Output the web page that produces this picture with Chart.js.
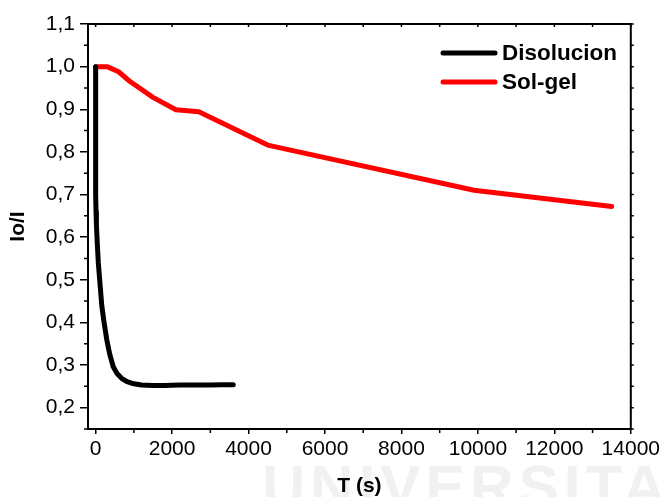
<!DOCTYPE html>
<html>
<head>
<meta charset="utf-8">
<script src="https://cdn.jsdelivr.net/npm/chart.js@4/dist/chart.umd.min.js"></script>
<style>
  html, body { margin: 0; padding: 0; background: #fff; }
  #wrap { width: 663px; height: 497px; position: relative; }
</style>
</head>
<body>
<div id="wrap"><canvas id="c" width="663" height="497"></canvas></div>
<script>
// ---- Data ----
const disolucionT = [0, 0, 10, 20, 40, 70, 110, 160, 220, 290, 370, 460, 560, 680, 820, 1000, 1200, 1500, 1800, 2200, 2600, 3000, 3300, 3600];
const disolucionV = [1.0, 0.70, 0.66, 0.63, 0.59, 0.54, 0.495, 0.44, 0.40, 0.36, 0.325, 0.296, 0.28, 0.269, 0.261, 0.256, 0.253, 0.252, 0.252, 0.253, 0.253, 0.253, 0.254, 0.254];

const solgelT = [0, 300, 600, 900, 1500, 2100, 2700, 4500, 9900, 13500];
const solgelV = [1.0, 1.0, 0.988, 0.965, 0.928, 0.899, 0.894, 0.816, 0.710, 0.672];

const xTicks = [0, 2000, 4000, 6000, 8000, 10000, 12000, 14000];
const yTicks = [0.2, 0.3, 0.4, 0.5, 0.6, 0.7, 0.8, 0.9, 1.0, 1.1];
const xMinor = [1000, 3000, 5000, 7000, 9000, 11000, 13000];
const yMinor = [0.15, 0.25, 0.35, 0.45, 0.55, 0.65, 0.75, 0.85, 0.95, 1.05];

const seriesNames = ['Disolucion', 'Sol-gel'];
const seriesColors = ['#000000', '#ff0000'];
const xTitle = 'T (s)';
const yTitle = 'Io/I';
const watermark = 'UNIVERSITAS';

const FONT = "'Liberation Sans', Arial, sans-serif";

const toXY = (xs, ys) => xs.map((x, i) => ({ x: x, y: ys[i] }));

const decorPlugin = {
  id: 'decor',
  beforeDraw(chart) {
    const ctx = chart.ctx;
    ctx.save();
    ctx.fillStyle = '#fff';
    ctx.fillRect(0, 0, chart.width, chart.height);
    ctx.fillStyle = '#f1f1f1';
    ctx.font = "bold 60px " + FONT;
    ctx.letterSpacing = '5px';
    ctx.textBaseline = 'alphabetic';
    ctx.textAlign = 'left';
    ctx.fillText(watermark, 262, 507);
    ctx.restore();
  },
  afterDraw(chart) {
    const ctx = chart.ctx;
    const a = chart.chartArea;
    const xs = chart.scales.x, ys = chart.scales.y;
    ctx.save();
    ctx.strokeStyle = '#000';
    // frame top & right
    ctx.lineWidth = 2;
    ctx.beginPath();
    ctx.moveTo(a.left, a.top); ctx.lineTo(a.right, a.top); ctx.lineTo(a.right, a.bottom);
    ctx.stroke();
    ctx.lineWidth = 1.5;
    ctx.beginPath();
    // bottom minor ticks (outward)
    xMinor.forEach(v => { const p = xs.getPixelForValue(v); ctx.moveTo(p, a.bottom); ctx.lineTo(p, a.bottom + 4); });
    // left minor ticks (outward)
    yMinor.forEach(v => { const p = ys.getPixelForValue(v); ctx.moveTo(a.left, p); ctx.lineTo(a.left - 4, p); });
    // top ticks (inward)
    xTicks.concat(xMinor).forEach(v => { const p = xs.getPixelForValue(v); ctx.moveTo(p, a.top); ctx.lineTo(p, a.top + 3); });
    // right ticks (outward)
    yTicks.concat(yMinor).forEach(v => { const p = ys.getPixelForValue(v); ctx.moveTo(a.right, p); ctx.lineTo(a.right + 3, p); });
    ctx.stroke();

    // legend
    const legY = [53, 82];
    ctx.lineCap = 'round';
    ctx.lineWidth = 5;
    ctx.font = "bold 22.5px " + FONT;
    ctx.textBaseline = 'middle';
    ctx.textAlign = 'left';
    chart.data.datasets.forEach((ds, i) => {
      ctx.strokeStyle = ds.borderColor;
      ctx.beginPath();
      ctx.moveTo(443, legY[i]); ctx.lineTo(495, legY[i]);
      ctx.stroke();
      ctx.fillStyle = '#000';
      ctx.fillText(ds.label, 502, legY[i] + 1);
    });
    ctx.restore();
  }
};

new Chart(document.getElementById('c'), {
  type: 'line',
  data: {
    datasets: [
      { label: seriesNames[0], data: toXY(disolucionT, disolucionV), borderColor: seriesColors[0], backgroundColor: seriesColors[0], borderWidth: 5, pointRadius: 0, tension: 0, borderJoinStyle: 'round', borderCapStyle: 'round' },
      { label: seriesNames[1], data: toXY(solgelT, solgelV), borderColor: seriesColors[1], backgroundColor: seriesColors[1], borderWidth: 5, pointRadius: 0, tension: 0, borderJoinStyle: 'round', borderCapStyle: 'round' }
    ]
  },
  options: {
    responsive: false,
    animation: false,
    devicePixelRatio: 1,
    layout: { padding: { top: 24, right: 31, left: 0, bottom: 0 } },
    plugins: { legend: { display: false }, tooltip: { enabled: false } },
    scales: {
      x: {
        type: 'linear',
        min: -200, max: 14000,
        afterBuildTicks: s => { s.ticks = xTicks.map(v => ({ value: v })); },
        afterFit: s => { s.height = 68; },
        grid: { drawOnChartArea: false, tickLength: 5, color: '#000', lineWidth: 1.5 },
        border: { display: true, color: '#000', width: 2 },
        ticks: { color: '#000', font: { family: FONT, size: 21 }, padding: 3, maxRotation: 0, autoSkip: false, callback: v => String(v) },
        title: { display: true, text: xTitle, color: '#000', font: { family: FONT, size: 21, weight: 'bold', lineHeight: 1 }, padding: { top: 0, bottom: 0 } }
      },
      y: {
        type: 'linear',
        min: 0.15, max: 1.1,
        afterBuildTicks: s => { s.ticks = yTicks.map(v => ({ value: v })); },
        afterFit: s => { s.width = 88; },
        grid: { drawOnChartArea: false, tickLength: 8, color: '#000', lineWidth: 1.5 },
        border: { display: true, color: '#000', width: 2 },
        ticks: { color: '#000', font: { family: FONT, size: 21 }, padding: 5, autoSkip: false, callback: v => Number(v).toFixed(1).replace('.', ',') },
        title: { display: true, text: yTitle, color: '#000', font: { family: FONT, size: 21, weight: 'bold', lineHeight: 1 }, padding: { top: 8, bottom: 0 } }
      }
    }
  },
  plugins: [decorPlugin]
});
</script>
</body>
</html>
